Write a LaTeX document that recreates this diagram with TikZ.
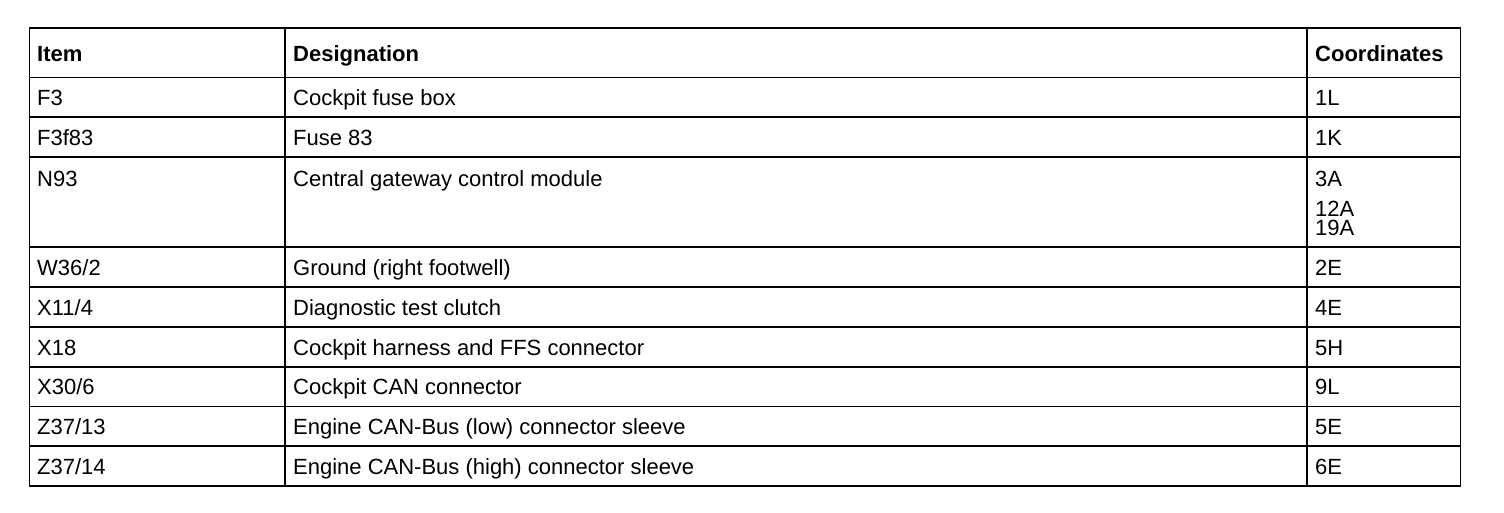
\documentclass[tikz,border=0pt]{standalone}
\usepackage{fontspec}
\setmainfont{Liberation Sans}
\begin{document}
\begin{tikzpicture}[x=1pt,y=-1pt,
  cell/.style={anchor=base west,inner sep=0pt,font=\fontsize{22}{24}\selectfont},
  head/.style={cell,font=\fontsize{22}{24}\selectfont\bfseries},
  grid/.style={line width=1.8pt,black}]
\useasboundingbox (0,0) rectangle (1504,512);
% grid
\draw[grid] (29.5,28) rectangle (1460.5,486);
\foreach \y in {77.5,117,157,247,287,327,367,406.5,446}
  \draw[grid] (29.5,\y) -- (1460.5,\y);
\draw[grid] (285,28) -- (285,486);
\draw[grid] (1307,28) -- (1307,486);
% header
\node[head] (h1) at (37,61) {Item};
\node[head] (h2) at (293,61) {Designation};
\node[head] (h3) at (1315,61) {Coordinates};
% rows
\node[cell] (a1) at (37,105.5) {F3};
\node[cell] (b1) at (293,105.5) {Cockpit fuse box};
\node[cell] (c1) at (1315,105.5) {1L};
\node[cell] (a2) at (37,145) {F3f83};
\node[cell] (b2) at (293,145) {Fuse 83};
\node[cell] (c2) at (1315,145) {1K};
\node[cell] (a3) at (37,186) {N93};
\node[cell] (b3) at (293,186) {Central gateway control module};
\node[cell] (c3) at (1315,186) {3A};
\node[cell,anchor=north west,align=left,font=\fontsize{22}{19}\selectfont] (c3b) at (1315,200.8) {12A\\19A};
\node[cell] (a4) at (37,275) {W36/2};
\node[cell] (b4) at (293,275) {Ground (right footwell)};
\node[cell] (c4) at (1315,275) {2E};
\node[cell] (a5) at (37,315) {X11/4};
\node[cell] (b5) at (293,315) {Diagnostic test clutch};
\node[cell] (c5) at (1315,315) {4E};
\node[cell] (a6) at (37,355) {X18};
\node[cell] (b6) at (293,355) {Cockpit harness and FFS connector};
\node[cell] (c6) at (1315,355) {5H};
\node[cell] (a7) at (37,394.7) {X30/6};
\node[cell] (b7) at (293,394.7) {Cockpit CAN connector};
\node[cell] (c7) at (1315,394.7) {9L};
\node[cell] (a8) at (37,434.3) {Z37/13};
\node[cell] (b8) at (293,434.3) {Engine CAN-Bus (low) connector sleeve};
\node[cell] (c8) at (1315,434.3) {5E};
\node[cell] (a9) at (37,474) {Z37/14};
\node[cell] (b9) at (293,474) {Engine CAN-Bus (high) connector sleeve};
\node[cell] (c9) at (1315,474) {6E};
\end{tikzpicture}
\end{document}
